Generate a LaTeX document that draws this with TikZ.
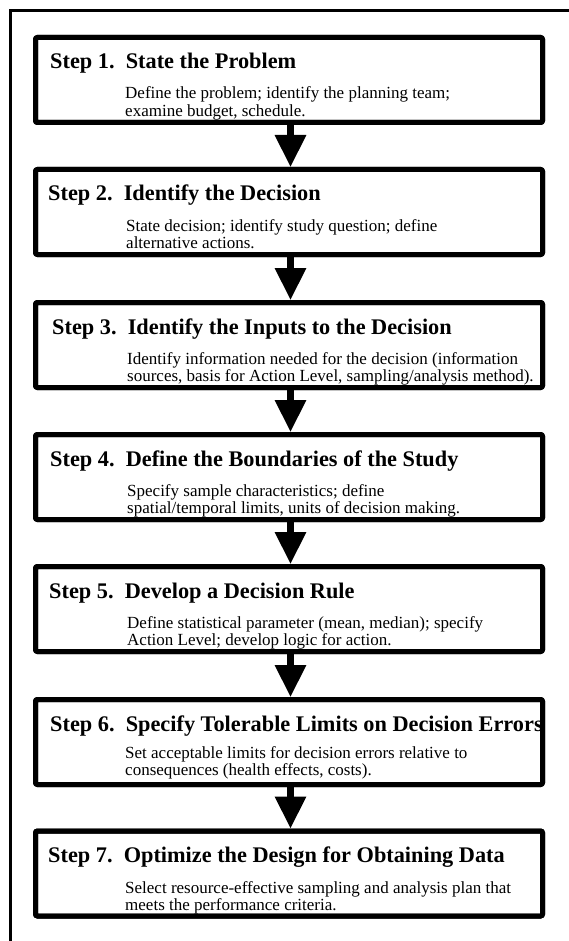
\documentclass[tikz,border=0pt]{standalone}
\usepackage{fontspec}
\setmainfont{Liberation Serif}
\usetikzlibrary{arrows.meta}
\begin{document}
\begin{tikzpicture}[x=1pt,y=-1pt,
  stepbox/.style={draw, line width=5pt, rounded corners=2pt, minimum width=507pt, minimum height=85pt, inner sep=0pt, outer sep=2.5pt},
  steptitle/.style={anchor=base west, inner sep=0pt, font=\fontsize{22.3}{22}\selectfont\bfseries},
  stepbody/.style={anchor=base west, inner sep=0pt, font=\fontsize{17}{17}\selectfont},
  flow/.style={line width=6.5pt, -{Triangle[width=30pt,length=32pt]}}
]
\useasboundingbox (0,0) rectangle (569,941);
\clip (0,0) rectangle (569,941);
% outer frame (cut by the page at right and bottom)
\draw[line width=2.7pt] (10.5,960) -- (10.5,10.3) -- (590,10.3);
\coordinate (ax) at (290.5,0);

% boxes
\node[stepbox] (b1) at (289,80) {};
\node[stepbox] (b2) at (289,212) {};
\node[stepbox] (b3) at (289,345) {};
\node[stepbox] (b4) at (289,477) {};
\node[stepbox] (b5) at (289,609) {};
\node[stepbox] (b6) at (289,742) {};
\node[stepbox] (b7) at (289,873.5) {};

% texts
\node[steptitle] (t1) at (50,69) {Step 1.\ \ State the Problem};
\node[stepbody] (d1a) at (125,99) {Define the problem; identify the planning team;};
\node[stepbody] (d1b) at (125,116.5) {examine budget, schedule.};

\node[steptitle] (t2) at (48,201) {Step 2.\ \ Identify the Decision};
\node[stepbody] (d2a) at (126,231) {State decision; identify study question; define};
\node[stepbody] (d2b) at (126,248.5) {alternative actions.};

\node[steptitle] (t3) at (52,334) {Step 3.\ \ Identify the Inputs to the Decision};
\node[stepbody] (d3a) at (127,364) {Identify information needed for the decision (information};
\node[stepbody] (d3b) at (127,381.5) {sources, basis for Action Level, sampling/analysis method).};

\node[steptitle] (t4) at (50,466) {Step 4.\ \ Define the Boundaries of the Study};
\node[stepbody] (d4a) at (127,496) {Specify sample characteristics; define};
\node[stepbody] (d4b) at (127,513.5) {spatial/temporal limits, units of decision making.};

\node[steptitle] (t5) at (49,598) {Step 5.\ \ Develop a Decision Rule};
\node[stepbody] (d5a) at (127,628) {Define statistical parameter (mean, median); specify};
\node[stepbody] (d5b) at (127,645.5) {Action Level; develop logic for action.};

\begin{scope}
\clip (38,702) rectangle (540,782);
\node[steptitle] (t6) at (50,731) {Step 6.\ \ Specify Tolerable Limits on Decision Errors};
\end{scope}
\node[stepbody] (d6a) at (125,758) {Set acceptable limits for decision errors relative to};
\node[stepbody] (d6b) at (125,775.5) {consequences (health effects, costs).};

\node[steptitle] (t7) at (48,862) {Step 7.\ \ Optimize the Design for Obtaining Data};
\node[stepbody] (d7a) at (125,893) {Select resource-effective sampling and analysis plan that};
\node[stepbody] (d7b) at (125,910) {meets the performance criteria.};

% redraw box borders over the text
\foreach \b in {b1,b2,b3,b4,b5,b6,b7}
  \draw[line width=5pt, rounded corners=2pt] (\b.north west) ++(2.5,2.5) rectangle ([shift={(-2.5,-2.5)}]\b.south east);

% arrows
\draw[flow] (b1.south -| ax) -- (b2.north -| ax);
\draw[flow] (b2.south -| ax) -- (b3.north -| ax);
\draw[flow] (b3.south -| ax) -- (b4.north -| ax);
\draw[flow] (b4.south -| ax) -- (b5.north -| ax);
\draw[flow] (b5.south -| ax) -- (b6.north -| ax);
\draw[flow] (b6.south -| ax) -- (b7.north -| ax);
\end{tikzpicture}
\end{document}
